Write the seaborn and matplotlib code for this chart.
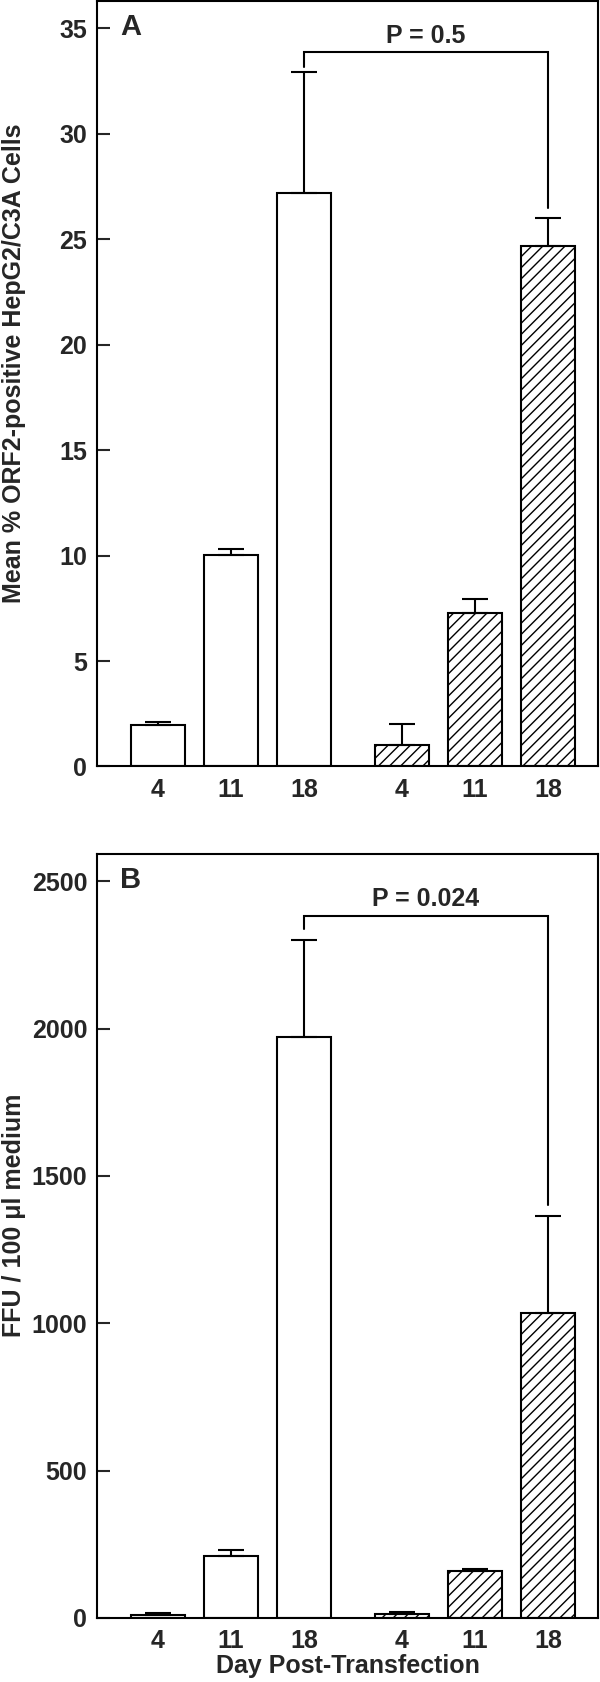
import numpy as np
import pandas as pd
import seaborn as sns
import matplotlib
matplotlib.use("Agg")
from matplotlib import pyplot as plt

# data
days = ["4", "11", "18"]
groups = ["open", "hatched"]

# panel A: mean % ORF2-positive cells
a_open = [1.95, 10.02, 27.2]
a_open_sd = [0.17, 0.3, 5.75]
a_hatch = [1.0, 7.26, 24.7]
a_hatch_sd = [1.0, 0.66, 1.32]

# panel B: FFU / 100 ul medium
b_open = [9, 211, 1970]
b_open_sd = [7, 19, 330]
b_hatch = [15, 160, 1035]
b_hatch_sd = [5, 5, 330]

# significance brackets (top, left leg end, right leg end), text y
a_bracket = [33.9, 33.18, 26.48]
b_bracket = [2381, 2337, 1401]
a_ptext = ("P = 0.5", 34.64)
b_ptext = ("P = 0.024", 2441)

GROUP_OFFSET = 3.342  # gap between the two groups in bar-slot units

sns.set_style("ticks")
plt.rcParams['font.family'] = ['Liberation Sans', 'DejaVu Sans']
plt.rcParams['font.weight'] = 'bold'
plt.rcParams['axes.labelweight'] = 'bold'
plt.rcParams['hatch.linewidth'] = 1.0


def make_frame(open_vals, open_sd, hatch_vals, hatch_sd):
    rows = []
    for g, (vals, sds) in enumerate([(open_vals, open_sd), (hatch_vals, hatch_sd)]):
        for i, d in enumerate(days):
            rows.append({"group": groups[g], "day": d, "pos": i + g * GROUP_OFFSET,
                         "value": vals[i], "sd": sds[i]})
    return pd.DataFrame(rows)


def draw_panel(ax, df, ylim, yticks, ylabel, letter, bracket, ptext):
    for g in groups:
        sub = df[df.group == g]
        sns.barplot(data=sub, x="pos", y="value", native_scale=True, ax=ax,
                    color="white", edgecolor="black", linewidth=1.5,
                    saturation=1, errorbar=None, width=0.75,
                    hatch="///" if g == "hatched" else None)
        ax.errorbar(sub.pos, sub.value, yerr=[np.zeros(len(sub)), sub.sd],
                    fmt="none", ecolor="black", elinewidth=1.5,
                    capsize=9.4, capthick=1.5, zorder=1)

    # bracket between day-18 bars of both groups
    x18 = df[df.day == "18"].pos.values
    ax.plot([x18[0], x18[0], x18[1], x18[1]],
            [bracket[1], bracket[0], bracket[0], bracket[2]],
            color="black", lw=1.5, solid_joinstyle="miter")
    ax.text(x18.mean(), ptext[1], ptext[0], ha="center", va="center",
            fontsize=18, fontweight="bold")

    ax.text(0.046, 0.966, letter, transform=ax.transAxes, ha="left", va="center",
            fontsize=21, fontweight="bold")

    ax.set_xlim(-0.836, 6.027)
    ax.set_ylim(*ylim)
    ax.set_yticks(yticks)
    ax.set_xticks(df.pos.values)
    ax.set_xticklabels(df.day.values)
    ax.tick_params(axis="y", direction="in", length=9.5, width=1.5,
                   labelsize=18, pad=7)
    ax.tick_params(axis="x", length=0, labelsize=18, pad=8)
    for s in ax.spines.values():
        s.set_visible(True)
        s.set_linewidth(1.5)
        s.set_color("black")
    ax.set_ylabel(ylabel, fontsize=18, fontweight="bold")
    ax.yaxis.set_label_coords(-0.142, 0.527)
    ax.set_xlabel("")


fig = plt.figure(figsize=(6, 16.82), dpi=100)
ax_a = fig.add_axes([0.1617, 0.5443, 0.835, 0.4551])
ax_b = fig.add_axes([0.1617, 0.03805, 0.835, 0.4542])

df_a = make_frame(a_open, a_open_sd, a_hatch, a_hatch_sd)
df_b = make_frame(b_open, b_open_sd, b_hatch, b_hatch_sd)

draw_panel(ax_a, df_a, (0, 36.3), np.arange(0, 36, 5),
           "Mean % ORF2-positive HepG2/C3A Cells", "A", a_bracket, a_ptext)
draw_panel(ax_b, df_b, (0, 2592), np.arange(0, 2501, 500),
           "FFU / 100 μl medium", "B", b_bracket, b_ptext)
ax_b.set_xlabel("Day Post-Transfection", fontsize=18, fontweight="bold", labelpad=1)

fig.savefig("out.png", dpi=100)
